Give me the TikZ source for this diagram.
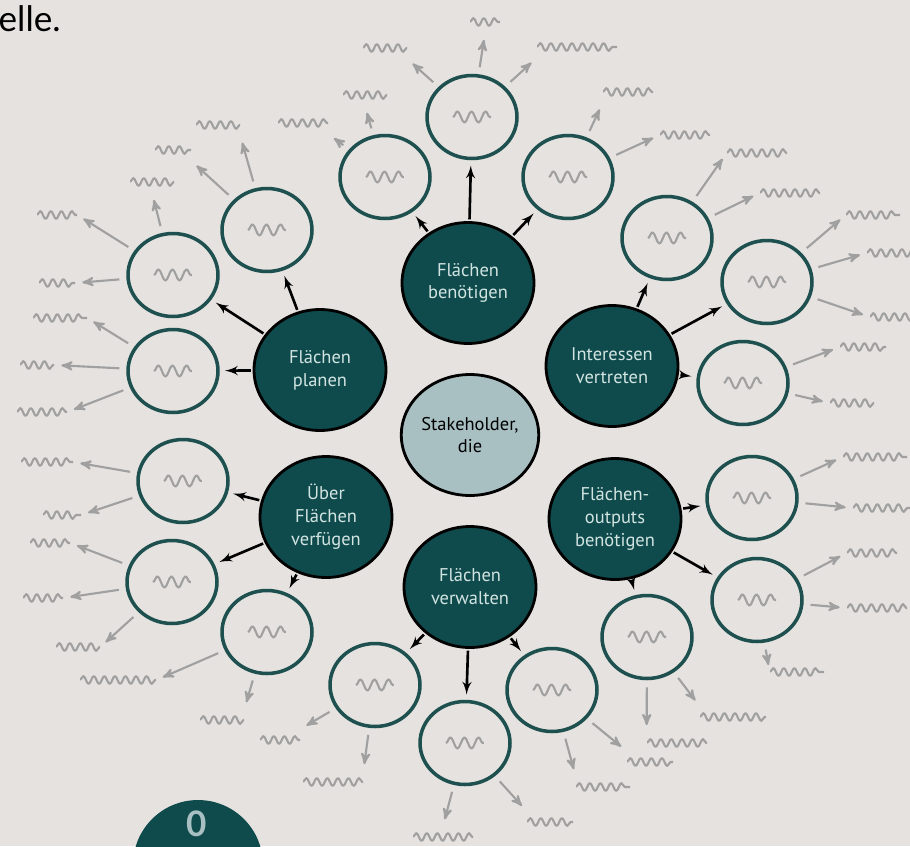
\documentclass[tikz,border=0pt]{standalone}
\usepackage{fontspec}
\setmainfont{PT Sans}
\newfontfamily\headfont{Lato}
\usepackage{tikz}
\usetikzlibrary{shapes.geometric, arrows, decorations.pathmorphing}

\definecolor{paper}{HTML}{E5E2DF}
\definecolor{tealdk}{HTML}{0F4B4D}
\definecolor{tealln}{HTML}{1D504F}
\definecolor{tealtx}{HTML}{D2E4E1}
\definecolor{hubfill}{HTML}{A9C0C3}
\definecolor{scribble}{HTML}{A0A0A0}

\begin{document}
\begin{tikzpicture}[x=0.02cm, y=-0.02cm,
    squig/.style={draw=scribble, line width=1.2pt, line join=round, decorate, decoration={snake, amplitude=2.2pt, segment length=6pt}},
    hub/.style={ellipse, draw=black, line width=1.6pt, fill=hubfill, minimum width=2.64cm, minimum height=2.42cm, inner sep=0pt, align=center, font=\fontsize{10.5}{13}\selectfont},
    task/.style={hub, fill=tealdk, text=tealtx},
    leaf/.style={ellipse, draw=tealln, line width=2pt, minimum width=1.8cm, minimum height=1.66cm, path picture={\draw[squig, decoration={amplitude=3.2pt, segment length=8pt}] ([xshift=-0.38cm]path picture bounding box.center) -- ++(0.76cm,0);}},
    scrib/.style={minimum width=#1*0.02cm, minimum height=12pt, inner sep=0pt, path picture={\draw[squig] (path picture bounding box.west) -- (path picture bounding box.east);}},
    link/.style={draw, -latex', line width=1.5pt, shorten <=1pt, shorten >=3pt},
    note/.style={draw=scribble, -stealth', line width=1.2pt, shorten <=4pt, shorten >=4pt}]

    \fill[paper] (0,0) rectangle (910,846);
    \useasboundingbox (0,0) rectangle (910,846);
    \clip (0,0) rectangle (910,846);

    \node[anchor=base east, inner sep=0pt, font=\headfont\fontsize{20}{24}\selectfont] (tail) at (61,31) {elle.};

    % centre and the six roles
    \node[hub] (who) at (470,435) {Stakeholder,\\die};
    \node[task] (need) at (468,283) {Flächen\\benötigen};
    \node[task] (speak) at (612,366) {Interessen\\vertreten};
    \node[task] (output) at (615,519) {Flächen-\\outputs\\benötigen};
    \node[task] (manage) at (470,587) {Flächen\\verwalten};
    \node[task] (own) at (326,517) {Über\\Flächen\\verfügen};
    \node[task] (plan) at (320,370) {Flächen\\planen};

    % outer ring
    \foreach \n/\x/\y in {1/472/117, 2/385/177, 3/568/177, 4/267/230, 5/667/238, 6/173/275,
        7/767/282, 8/173/371, 9/743/383, 10/183/481, 11/752/498, 12/172/582,
        13/757/600, 14/267/632, 15/647/637, 16/375/685, 17/552/690, 18/465/743}
        \node[leaf] (o\n) at (\x,\y) {};

    \draw[link] (need) -- (o1);
    \draw[link] (need) -- (o2);
    \draw[link] (need) -- (o3);
    \draw[link] (speak) -- (o5);
    \draw[link] (speak) -- (o7);
    \draw[link] (speak) -- (o9);
    \draw[link] (output) -- (o11);
    \draw[link] (output) -- (o13);
    \draw[link] (output) -- (o15);
    \draw[link] (manage) -- (o16);
    \draw[link] (manage) -- (o18);
    \draw[link] (manage) -- (o17);
    \draw[link] (own) -- (o10);
    \draw[link] (own) -- (o12);
    \draw[link] (own) -- (o14);
    \draw[link] (plan) -- (o4);
    \draw[link] (plan) -- (o6);
    \draw[link] (plan) -- (o8);

    % scribbled notes
    \foreach \o/\s/\x/\y/\w/\a in {1/1a/385/48/44/south east, 1/1b/485/22/30/south, 1/1c/577/47/80/south west,
        2/2a/365/95/44/south, 2/2b/303/123/50/south east,
        3/3a/628/92/50/south west, 3/3b/685/135/50/west,
        4/4a/218/125/44/south east, 4/4b/173/150/36/south east,
        5/5a/757/153/60/west, 5/5b/790/193/60/west,
        6/6a/152/182/44/south, 6/6b/57/215/40/east, 6/6c/57/283/36/east,
        7/7a/873/215/54/west, 7/7b/893/253/52/west, 7/7c/892/317/44/west,
        8/8a/60/318/54/east, 8/8b/37/365/34/east, 8/8c/42/412/50/east,
        9/9a/863/347/46/west, 9/9b/852/403/44/west,
        10/10a/47/462/52/east, 10/10b/62/515/38/east,
        11/11a/875/457/64/west, 11/11b/882/508/58/west,
        12/12a/50/543/40/east, 12/12b/43/598/40/east, 12/12c/78/647/44/east,
        13/13a/872/553/50/west, 13/13b/877/608/60/west, 13/13c/797/672/54/west,
        14/14a/118/680/76/east, 14/14b/222/720/44/north east,
        15/15a/733/717/66/north west, 15/15b/677/743/60/north west,
        16/16a/280/740/40/north east, 16/16b/333/782/60/north east,
        17/17a/603/787/54/north west, 17/17b/650/762/46/north west,
        18/18a/443/837/60/north, 18/18b/550/822/46/north west}
    {
        \node[scrib=\w] (s\s) at (\x,\y) {};
        \draw[note] (o\o) -- (s\s.\a);
    }

    % next step badge at the page edge
    \node[circle, fill=tealdk, minimum size=2.6cm] (badge) at (198,865) {};
    \node[anchor=base, inner sep=0pt, text=hubfill, font=\headfont\bfseries\fontsize{20}{20}\selectfont] (badgeno) at (197,836) {0};
\end{tikzpicture}
\end{document}
